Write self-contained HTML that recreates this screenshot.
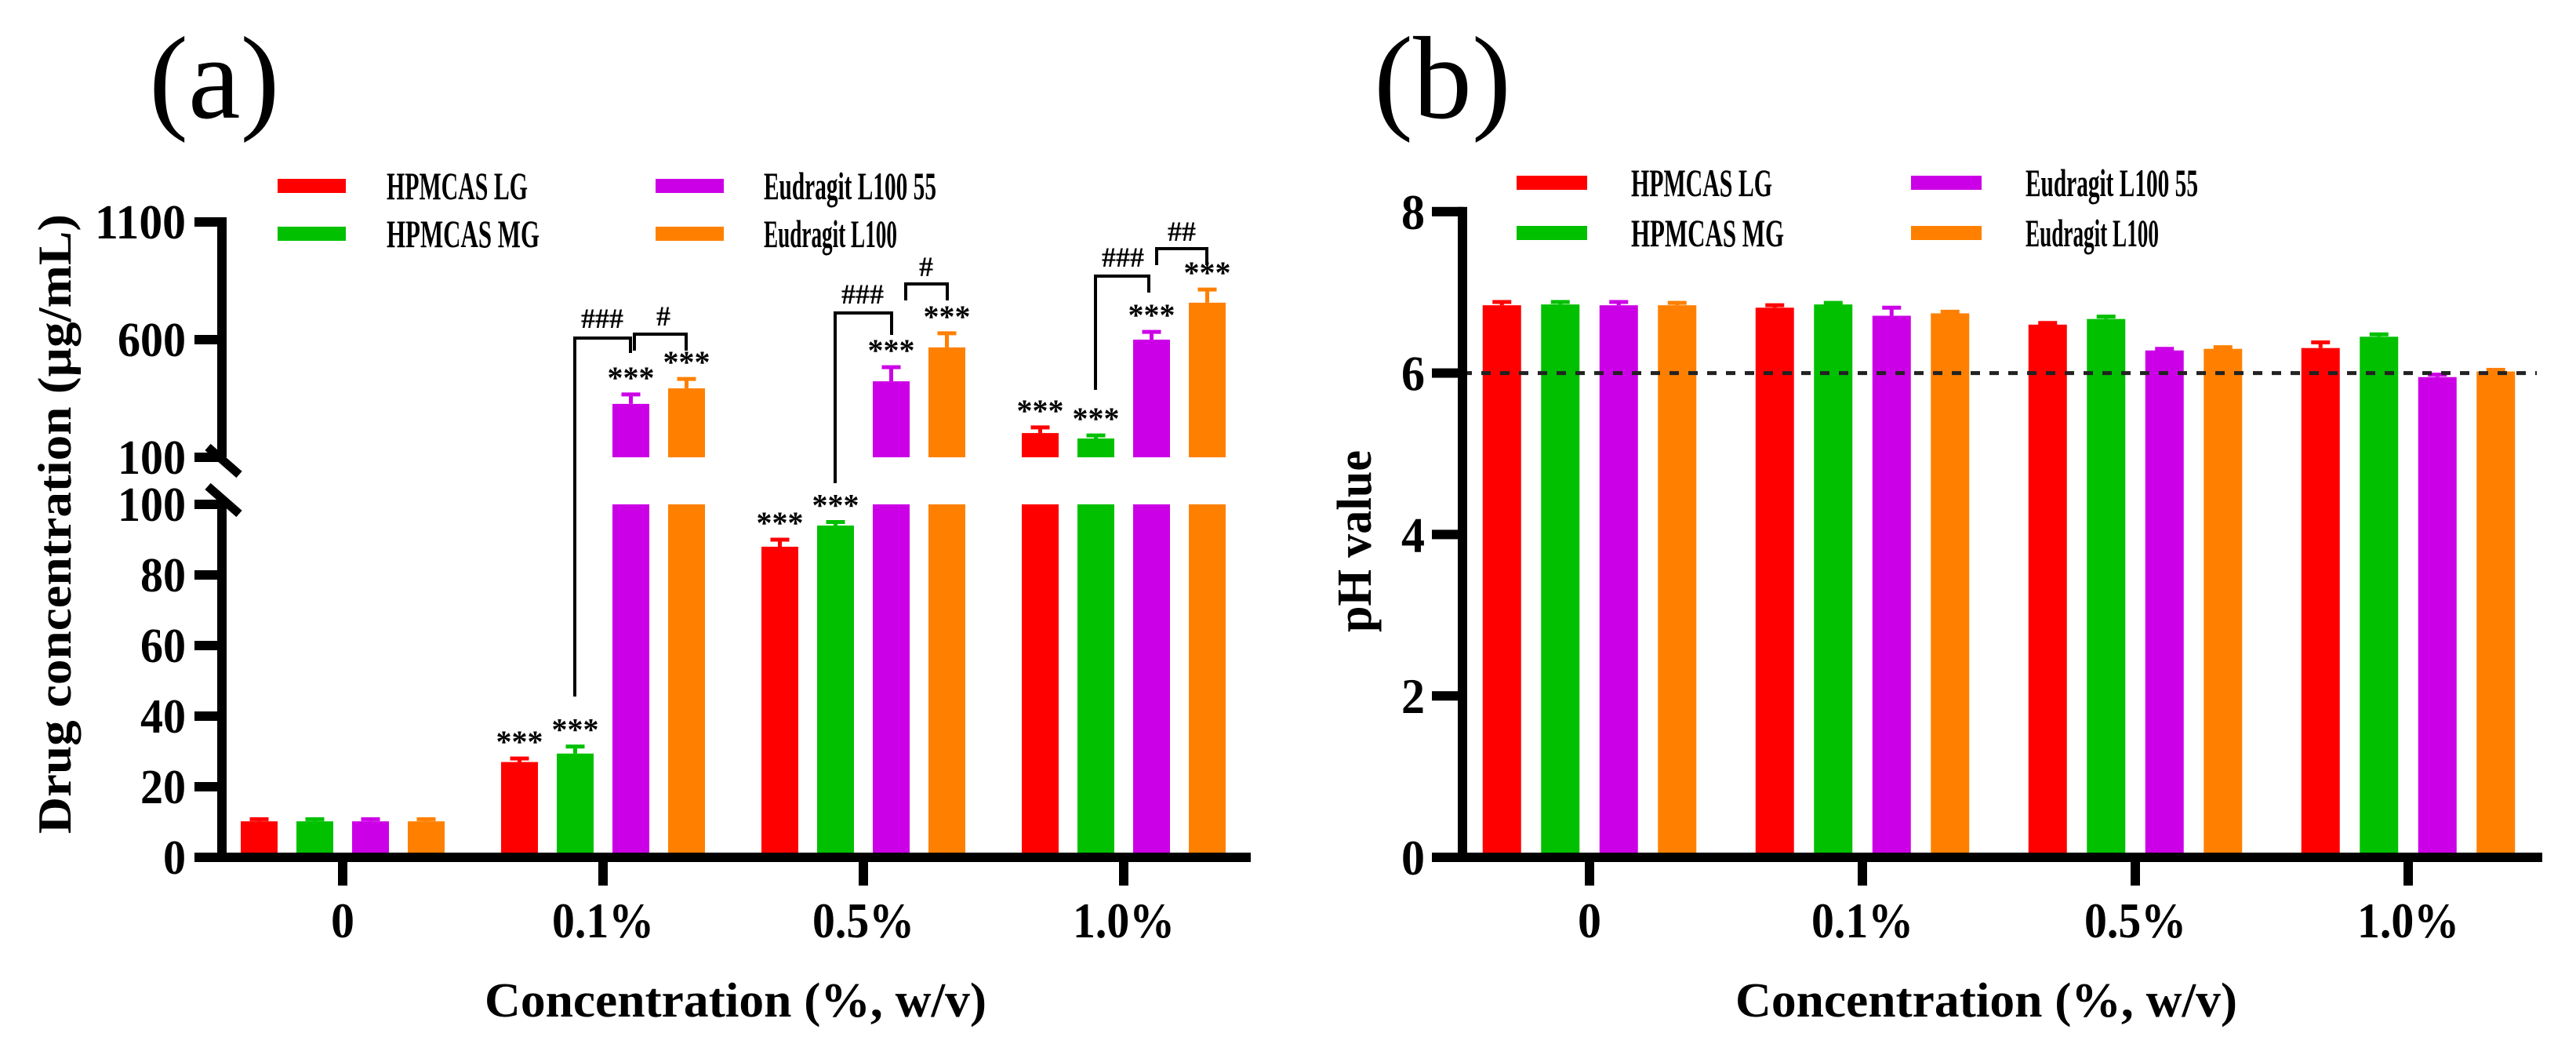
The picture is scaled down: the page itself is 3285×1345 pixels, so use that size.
<!DOCTYPE html>
<html><head><meta charset="utf-8"><style>
html,body{margin:0;padding:0;background:#fff;}
svg{display:block;}
text{font-family:"Liberation Serif",serif;font-weight:bold;fill:#000;}
</style></head><body>
<svg id="fig" xmlns="http://www.w3.org/2000/svg" width="3285" height="1345" viewBox="0 0 3285 1345">
<g id="A"></g>
<g id="B"></g>
</svg>
<script>
const categories = ["0","0.1%","0.5%","1.0%"];
const seriesNames = ["HPMCAS LG","HPMCAS MG","Eudragit L100 55","Eudragit L100"];
const colors = ["#ff0000","#00c000","#cc00e6","#ff8000"];
// Panel (a) drug concentration (µg/mL), per series across categories
const drugLG = [10.2, 27, 88, 203];
const drugMG = [10.2, 29.4, 94, 180];
const drugL55 = [10.2, 327, 423, 600];
const drugL100 = [10.2, 393, 567, 757];
const drugErrLG = [0.6, 1, 2, 24];
const drugErrMG = [0.6, 2, 1, 13];
const drugErrL55 = [0.6, 40, 60, 33];
const drugErrL100 = [0.6, 40, 60, 56];
const sigStars = [[0,1,1,1],[0,1,1,1],[0,1,1,1],[0,1,1,1]];
const lowerTicks = [0,20,40,60,80,100];
const upperTicks = [100,600,1100];
// Panel (b) pH
const phLG = [6.84, 6.81, 6.60, 6.31];
const phMG = [6.85, 6.85, 6.67, 6.45];
const phL55 = [6.84, 6.71, 6.28, 5.95];
const phL100 = [6.84, 6.74, 6.30, 6.02];
const phErrLG = [0.04, 0.03, 0.02, 0.07];
const phErrMG = [0.03, 0.02, 0.03, 0.03];
const phErrL55 = [0.04, 0.10, 0.02, 0.03];
const phErrL100 = [0.03, 0.02, 0.02, 0.02];
const phTicks = [0,2,4,6,8];
const phRef = 6;

const NS="http://www.w3.org/2000/svg";
function mk(parent,tag,attrs,txt){const e=document.createElementNS(NS,tag);for(const k in attrs)e.setAttribute(k,attrs[k]);if(txt!==undefined)e.textContent=txt;parent.appendChild(e);return e;}
function numLen(s){return String(s).length*29;}
function catLen(s){return s.length===1?30:130;}

/* ---------- Panel A ---------- */
const A=document.getElementById('A');
const ax0=283;
function xA(ci,si){return 437+ci*332+(si-1.5)*71;}
function yLow(v){return 1093-v*4.5;}
function yUp(v){return 583-(v-100)*0.3;}
function yA(v){return v<=100?yLow(v):yUp(v);}
const drugVals=[drugLG,drugMG,drugL55,drugL100];
const drugErrs=[drugErrLG,drugErrMG,drugErrL55,drugErrL100];
const bw=47;
for(let s=0;s<4;s++){for(let c=0;c<4;c++){
  const v=drugVals[s][c], e=drugErrs[s][c], x=xA(c,s);
  if(v<=100){
    const r=mk(A,'rect',{x:x-bw/2,y:yLow(v),width:bw,height:yLow(0)-yLow(v),fill:colors[s]});
    
    
  } else {
    const r1=mk(A,'rect',{x:x-bw/2,y:yLow(100),width:bw,height:yLow(0)-yLow(100),fill:colors[s]});
    
    
    const r2=mk(A,'rect',{x:x-bw/2,y:yUp(v),width:bw,height:yUp(100)-yUp(v),fill:colors[s]});
    
    
  }
  const yt=yA(v+e), yb=yA(v);
  const eb=mk(A,'path',{d:`M${x} ${yb}V${yt}M${x-12} ${yt}H${x+12}`,stroke:colors[s],'stroke-width':5,fill:'none'});
  
  
  if(sigStars[s][c]){
    const st=mk(A,'text',{x:x,y:yt-8,'font-size':40,'text-anchor':'middle'},'***');
    
    
  }
}}
// axes
mk(A,'path',{d:`M${ax0} 277V583M${ax0} 643V1099`,stroke:'#000','stroke-width':12,fill:'none'});
mk(A,'path',{d:`M265 570L305 605M265 620L305 655`,stroke:'#000','stroke-width':11});
mk(A,'rect',{x:248,y:1087,width:1347,height:12,fill:'#000'});
lowerTicks.forEach(t=>{const y=yLow(t);
  mk(A,'rect',{x:248,y:y-6,width:36,height:12,fill:'#000'});
  const l=mk(A,'text',{x:237,y:y+21,'font-size':62,'text-anchor':'end',textLength:numLen(t),lengthAdjust:'spacingAndGlyphs'},String(t));
  
  
});
upperTicks.forEach(t=>{const y=yUp(t);
  mk(A,'rect',{x:248,y:y-6,width:36,height:12,fill:'#000'});
  const l=mk(A,'text',{x:237,y:y+21,'font-size':62,'text-anchor':'end',textLength:numLen(t),lengthAdjust:'spacingAndGlyphs'},String(t));
  
  
});
categories.forEach((c,i)=>{const x=437+i*332;
  mk(A,'rect',{x:x-6,y:1093,width:12,height:36,fill:'#000'});
  const l=mk(A,'text',{x:x,y:1195,'font-size':64,'text-anchor':'middle',textLength:catLen(c),lengthAdjust:'spacingAndGlyphs'},c);
  
  
});
// brackets
const br=[
 `M733 888V431H804V450`,`M809 447V426H875V447`,
 `M1065 616V399H1137V427`,`M1155 383V362H1208V383`,
 `M1397 497V352H1465V373`,`M1475 338V317H1539V338`];
br.forEach(d=>{const p=mk(A,'path',{d:d,stroke:'#000','stroke-width':4,fill:'none'});
  
  });
[[768,418,'###'],[846,415,'#'],[1100,387,'###'],[1181,352,'#'],[1432,340,'###'],[1507,307,'##']].forEach(a=>{
  const t=mk(A,'text',{x:a[0],y:a[1],'font-size':36,'text-anchor':'middle'},a[2]);
  
  });
// titles
const tA=mk(A,'text',{x:190,y:150,'font-size':150,style:'font-weight:normal'},'(a)');


const xtA=mk(A,'text',{x:938,y:1296,'font-size':62,'text-anchor':'middle',textLength:640,lengthAdjust:'spacingAndGlyphs'},'Concentration (%, w/v)');


const ytA=mk(A,'text',{x:0,y:0,'font-size':60,'text-anchor':'middle',transform:'translate(90 668) rotate(-90)',textLength:790,lengthAdjust:'spacingAndGlyphs'},'Drug concentration (µg/mL)');


// legend A
[[354,237,493],[354,298,493],[836,237,974],[836,298,974]].forEach((p,i)=>{
  const g=mk(A,'g',{});
  
  
  mk(g,'rect',{x:p[0],y:p[1]-9,width:87,height:18,fill:colors[i]});
  mk(g,'text',{x:p[2],y:p[1]+17,'font-size':50,textLength:[180,195,220,170][i],lengthAdjust:'spacingAndGlyphs'},seriesNames[i]);
});

/* ---------- Panel B ---------- */
const B=document.getElementById('B');
const bx0=1865;
function xB(ci,si){return 2027+ci*348+(si-1.5)*74.5;}
function yB(v){return 1093-v*102.9;}
const phVals=[phLG,phMG,phL55,phL100];
const phErrs=[phErrLG,phErrMG,phErrL55,phErrL100];
const bw2=49;
for(let s=0;s<4;s++){for(let c=0;c<4;c++){
  const v=phVals[s][c], e=phErrs[s][c], x=xB(c,s);
  const r=mk(B,'rect',{x:x-bw2/2,y:yB(v),width:bw2,height:yB(0)-yB(v),fill:colors[s]});
  
  
  const yt=yB(v+e);
  const eb=mk(B,'path',{d:`M${x} ${yB(v)}V${yt}M${x-12} ${yt}H${x+12}`,stroke:colors[s],'stroke-width':5,fill:'none'});
  
  
}}
const ref=mk(B,'line',{x1:bx0,x2:3235,y1:yB(phRef),y2:yB(phRef),stroke:'#222','stroke-width':5,'stroke-dasharray':'12 12'});


mk(B,'rect',{x:bx0-6,y:yB(8)-6,width:12,height:1099-yB(8)+6,fill:'#000'});
mk(B,'rect',{x:1826,y:1087,width:1416,height:12,fill:'#000'});
phTicks.forEach(t=>{const y=yB(t);
  mk(B,'rect',{x:1826,y:y-6,width:40,height:12,fill:'#000'});
  const l=mk(B,'text',{x:1817,y:y+22,'font-size':64,'text-anchor':'end',textLength:30,lengthAdjust:'spacingAndGlyphs'},String(t));
  
  
});
categories.forEach((c,i)=>{const x=2027+i*348;
  mk(B,'rect',{x:x-6,y:1093,width:12,height:36,fill:'#000'});
  const l=mk(B,'text',{x:x,y:1195,'font-size':64,'text-anchor':'middle',textLength:catLen(c),lengthAdjust:'spacingAndGlyphs'},c);
  
  
});
const tB=mk(B,'text',{x:1752,y:150,'font-size':150,style:'font-weight:normal'},'(b)');


const xtB=mk(B,'text',{x:2533,y:1296,'font-size':62,'text-anchor':'middle',textLength:640,lengthAdjust:'spacingAndGlyphs'},'Concentration (%, w/v)');


const ytB=mk(B,'text',{x:0,y:0,'font-size':62,'text-anchor':'middle',transform:'translate(1748 690) rotate(-90)',textLength:232,lengthAdjust:'spacingAndGlyphs'},'pH value');


[[1934,233,2080],[1934,297,2080],[2437,233,2583],[2437,297,2583]].forEach((p,i)=>{
  const g=mk(B,'g',{});
  
  
  mk(g,'rect',{x:p[0],y:p[1]-9,width:90,height:18,fill:colors[i]});
  mk(g,'text',{x:p[2],y:p[1]+17,'font-size':50,textLength:[180,195,220,170][i],lengthAdjust:'spacingAndGlyphs'},seriesNames[i]);
});
</script>
</body></html>
